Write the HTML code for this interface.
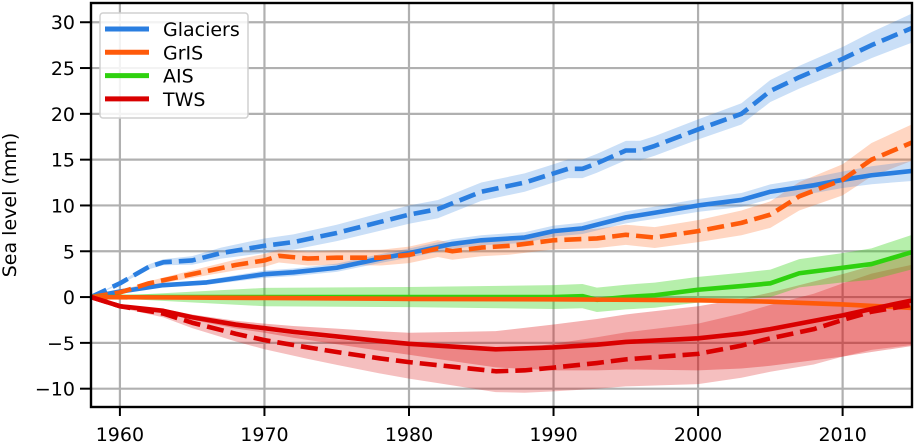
<!DOCTYPE html>
<html><head><meta charset="utf-8">
<style>
body{margin:0;background:#fff;}
svg{display:block;font-family:"DejaVu Sans","Liberation Sans",sans-serif;}
</style></head>
<body>
<svg id="chart" width="919" height="442"></svg>
<script>
const glacDashYears=[1958,1960,1962,1963,1965,1967,1970,1972,1975,1978,1980,1982,1985,1988,1990,1991,1992,1993,1995,1996,1997,2000,2003,2005,2007,2010,2012,2015];
const glacDashVals=[0,1.5,3.3,3.8,4.0,4.8,5.6,6.0,7.0,8.2,9.0,9.6,11.5,12.5,13.5,14,14,14.6,16,16,16.5,18.3,20,22.5,24,26,27.5,29.5];
const glacSolidYears=[1958,1960,1963,1966,1970,1972,1975,1978,1980,1983,1985,1988,1990,1992,1995,1997,2000,2003,2005,2008,2010,2012,2015];
const glacSolidVals=[0,0.6,1.3,1.6,2.5,2.7,3.2,4.2,4.8,5.8,6.2,6.5,7.2,7.5,8.7,9.2,10,10.6,11.5,12.2,12.8,13.3,13.8];
const grisDashYears=[1958,1960,1962,1965,1968,1970,1971,1973,1975,1978,1980,1982,1983,1985,1987,1990,1993,1995,1997,2000,2003,2005,2007,2010,2012,2015];
const grisDashVals=[0,0.5,1.5,2.5,3.5,4,4.5,4.2,4.3,4.3,4.6,5.3,5.0,5.4,5.6,6.2,6.4,6.8,6.5,7.2,8.1,9,11,12.8,15,17];
const grisSolidYears=[1958,1970,1980,1990,2000,2005,2010,2015];
const grisSolidVals=[0,-0.1,-0.2,-0.25,-0.35,-0.5,-0.8,-1.2];
const aisYears=[1958,1970,1980,1990,1992,1993,1995,1997,2000,2003,2005,2007,2010,2012,2015];
const aisVals=[0,0,0,0,0.1,-0.3,0,0.2,0.8,1.2,1.5,2.6,3.2,3.6,5];
const twsSolidYears=[1958,1960,1963,1965,1968,1970,1972,1975,1978,1980,1983,1986,1990,1993,1995,2000,2003,2005,2008,2010,2012,2015];
const twsSolidVals=[0,-1,-1.5,-2.2,-3,-3.4,-3.8,-4.3,-4.8,-5.1,-5.4,-5.7,-5.5,-5.2,-4.9,-4.5,-4.0,-3.5,-2.6,-2.0,-1.3,-0.3];
const twsDashYears=[1958,1960,1963,1965,1968,1970,1973,1975,1978,1980,1983,1986,1988,1990,1993,1995,2000,2003,2005,2008,2010,2012,2015];
const twsDashVals=[0,-1,-1.8,-2.8,-4,-4.7,-5.5,-6,-6.7,-7.1,-7.6,-8.1,-8.0,-7.7,-7.2,-6.8,-6.2,-5.3,-4.5,-3.5,-2.5,-1.6,-0.8];
const uncYears=[1958,1970,1980,1990,2000,2010,2015];
const glacDashUnc=[0,0.8,1.0,1.0,1.1,1.3,1.6];
const glacSolidUnc=[0,0.4,0.5,0.6,0.7,0.9,1.1];
const grisDashUnc=[0,0.7,0.9,1.0,1.2,1.7,2.0];
const aisUnc=[0,1.0,1.1,1.3,1.4,1.6,1.9];
const twsSolidUnc=[0,0.5,1.2,2.5,3.5,4.5,5.0];
const twsDashUnc=[0,1.0,1.8,2.6,3.3,4.0,4.4];
const xTicks=[1960,1970,1980,1990,2000,2010];
const yTicks=[-10,-5,0,5,10,15,20,25,30];
const legendLabels=["Glaciers","GrIS","AIS","TWS"];

const L=91,R=912,T=3,B=407;
const x0=1958,x1=2014.8,y0=-12,y1=32.1;
const sx=v=>L+(v-x0)/(x1-x0)*(R-L);
const sy=v=>B-(v-y0)/(y1-y0)*(B-T);
const NS="http://www.w3.org/2000/svg";
const svg=document.getElementById('chart');
function mk(tag,attrs,parent){const e=document.createElementNS(NS,tag);for(const k in attrs)e.setAttribute(k,attrs[k]);(parent||svg).appendChild(e);return e;}
function uncAt(arr,y){for(let i=0;i<uncYears.length-1;i++){if(y<=uncYears[i+1]){const t=(y-uncYears[i])/(uncYears[i+1]-uncYears[i]);return arr[i]+t*(arr[i+1]-arr[i]);}}return arr[arr.length-1];}

const clip=mk('clipPath',{id:'pc'});mk('rect',{x:L,y:T,width:R-L,height:B-T},clip);
const FS=19;
xTicks.forEach(t=>{
  const g=mk('line',{x1:sx(t),x2:sx(t),y1:T,y2:B,stroke:'#b0b0b0','stroke-width':2.2});
  
  mk('line',{x1:sx(t),x2:sx(t),y1:B,y2:B+9,stroke:'#000','stroke-width':2});
  const tx=mk('text',{x:sx(t),y:441,'text-anchor':'middle','font-size':FS,fill:'#000'});tx.textContent=t;
  
});
yTicks.forEach(t=>{
  const g=mk('line',{x1:L,x2:R,y1:sy(t),y2:sy(t),stroke:'#b0b0b0','stroke-width':2.2});
  
  mk('line',{x1:L-11,x2:L,y1:sy(t),y2:sy(t),stroke:'#000','stroke-width':2});
  const tx=mk('text',{x:75,y:sy(t)+7,'text-anchor':'end','font-size':FS,fill:'#000'});tx.textContent=t<0?'\u2212'+(-t):t;
  
});
const yl=mk('text',{x:0,y:0,transform:'translate(16,205) rotate(-90)','text-anchor':'middle','font-size':FS,fill:'#000'});
yl.textContent='Sea level (mm)';


const gp=mk('g',{'clip-path':'url(#pc)'});
function band(years,vals,unc,color,op,name){
  const up=years.map((y,i)=>sx(y)+','+sy(vals[i]+uncAt(unc,y)));
  const dn=years.map((y,i)=>sx(y)+','+sy(vals[i]-uncAt(unc,y))).reverse();
  const p=mk('polygon',{points:up.concat(dn).join(' '),fill:color,'fill-opacity':op,stroke:'none'},gp);
  
}
function line(years,vals,color,dash,name){
  const p=mk('polyline',{points:years.map((y,i)=>sx(y)+','+sy(vals[i])).join(' '),fill:'none',stroke:color,'stroke-width':4.6,'stroke-linejoin':'round'},gp);
  if(dash)p.setAttribute('stroke-dasharray','17,7');
  
}
const cB='#2a7ee0',cO='#ff5a0a',cG='#2fd10f',cR='#d90000';
band(twsDashYears,twsDashVals,twsDashUnc,cR,0.25,'tws-dashed-band');
band(twsSolidYears,twsSolidVals,twsSolidUnc,cR,0.3,'tws-solid-band');
band(aisYears,aisVals,aisUnc,cG,0.35,'ais-band');
band(grisDashYears,grisDashVals,grisDashUnc,cO,0.25,'gris-dashed-band');
band(glacSolidYears,glacSolidVals,glacSolidUnc,cB,0.25,'glaciers-solid-band');
band(glacDashYears,glacDashVals,glacDashUnc,cB,0.25,'glaciers-dashed-band');
line(glacDashYears,glacDashVals,cB,true,'glaciers-dashed-line');
line(glacSolidYears,glacSolidVals,cB,false,'glaciers-solid-line');
line(grisDashYears,grisDashVals,cO,true,'gris-dashed-line');
line(aisYears,aisVals,cG,false,'ais-line');
line(grisSolidYears,grisSolidVals,cO,false,'gris-solid-line');
line(twsDashYears,twsDashVals,cR,true,'tws-dashed-line');
line(twsSolidYears,twsSolidVals,cR,false,'tws-solid-line');

const frame=mk('rect',{x:L,y:T,width:R-L,height:B-T,fill:'none',stroke:'#000','stroke-width':2.4});


const lg=mk('g',{});

mk('rect',{x:100,y:13,width:148,height:105,rx:3,fill:'#fff','fill-opacity':0.85,stroke:'#d0d0d0','stroke-width':1.5},lg);
const lc=[cB,cO,cG,cR];
legendLabels.forEach((s,i)=>{
  const y=29+i*23.3;
  const e=mk('g',{},lg);
  
  mk('line',{x1:105,x2:149,y1:y,y2:y,stroke:lc[i],'stroke-width':5},e);
  const t=mk('text',{x:163,y:y+7,'font-size':FS,fill:'#000'},e);t.textContent=s;
});
</script>
</body></html>
